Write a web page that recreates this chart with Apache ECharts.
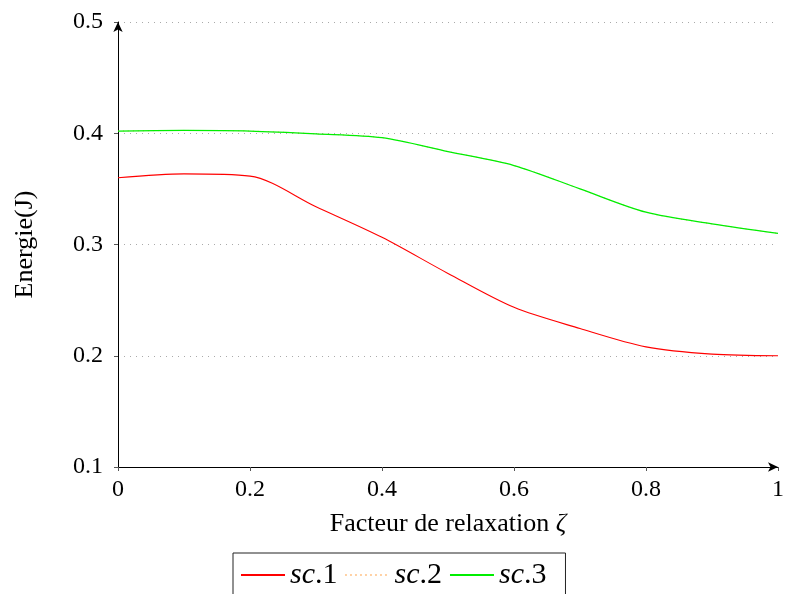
<!DOCTYPE html>
<html>
<head>
<meta charset="utf-8">
<script src="https://cdn.jsdelivr.net/npm/echarts@6/dist/echarts.min.js"></script>
<style>
  html, body { margin: 0; padding: 0; background: #fff; }
  #chart { width: 787px; height: 594px; }
</style>
</head>
<body>
<div id="chart"></div>
<script>
// Relaxation factor (x) and energy for each scenario
const zeta = [0, 0.1, 0.2, 0.3, 0.4, 0.5, 0.6, 0.7, 0.8, 0.9, 1.0];
const sc1 = [0.360, 0.3635, 0.3615, 0.334, 0.3065, 0.274, 0.2435, 0.2245, 0.208, 0.2015, 0.200];
const sc2 = [0.402, 0.4025, 0.402, 0.3995, 0.396, 0.3835, 0.371, 0.350, 0.329, 0.3185, 0.310];
const sc3 = [0.402, 0.4025, 0.402, 0.3995, 0.396, 0.3835, 0.371, 0.350, 0.329, 0.3185, 0.310];
const seriesNames = ['sc.1', 'sc.2', 'sc.3'];
const xTicks = [0, 0.2, 0.4, 0.6, 0.8, 1];
const yTicks = [0.1, 0.2, 0.3, 0.4, 0.5];

const FONT = '"Liberation Serif", "DejaVu Serif", serif';
const pairs = ys => zeta.map((x, i) => [x, ys[i]]);

const chart = echarts.init(document.getElementById('chart'), null, { renderer: 'canvas' });

chart.setOption({
  animation: false,
  backgroundColor: '#ffffff',
  grid: { left: 118, right: 3, top: 22, bottom: 127, containLabel: false },
  xAxis: {
    type: 'value',
    min: xTicks[0],
    max: xTicks[xTicks.length - 1],
    interval: 0.2,
    name: 'Facteur de relaxation {z|ζ}',
    nameLocation: 'middle',
    nameGap: 44,
    nameTextStyle: {
      fontFamily: FONT, fontSize: 26, color: '#000',
      rich: { z: { fontFamily: FONT, fontSize: 26, fontStyle: 'italic', color: '#000' } }
    },
    axisLine: {
      show: true, onZero: false,
      symbol: ['none', 'arrow'], symbolSize: [7, 10], symbolOffset: [0, 0],
      lineStyle: { color: '#000', width: 1 }
    },
    axisTick: { show: true, inside: false, length: 4, lineStyle: { color: '#555' } },
    axisLabel: { fontFamily: FONT, fontSize: 24, color: '#000', margin: 11 },
    splitLine: { show: false }
  },
  yAxis: {
    type: 'value',
    min: yTicks[0],
    max: yTicks[yTicks.length - 1],
    interval: 0.1,
    name: 'Energie(J)',
    nameLocation: 'middle',
    nameRotate: 90,
    nameGap: 80,
    nameTextStyle: { fontFamily: FONT, fontSize: 26, color: '#000' },
    axisLine: {
      show: true, onZero: false,
      symbol: ['none', 'arrow'], symbolSize: [7, 10],
      lineStyle: { color: '#000', width: 1 }
    },
    axisTick: { show: true, inside: false, length: 4, lineStyle: { color: '#555' } },
    axisLabel: { fontFamily: FONT, fontSize: 24, color: '#000', margin: 15 },
    splitLine: { show: true, lineStyle: { color: '#aaa', width: 1, type: [1, 5] } }
  },
  legend: {
    show: true,
    data: seriesNames,
    left: 233,
    top: 553,
    orient: 'horizontal',
    borderColor: '#222',
    borderWidth: 1,
    padding: [7, 19, 30, 7],
    itemWidth: 44,
    itemHeight: 14,
    itemGap: 7,
    itemStyle: { color: 'transparent', borderWidth: 0 },
    formatter: n => '{i|' + n.slice(0, 2) + '}' + n.slice(2),
    textStyle: {
      fontFamily: FONT, fontSize: 30, color: '#000',
      rich: { i: { fontFamily: FONT, fontSize: 30, fontStyle: 'italic', color: '#000' } }
    }
  },
  series: [
    {
      name: seriesNames[0], type: 'line', data: pairs(sc1), smooth: 0.3,
      showSymbol: false, symbol: 'none', z: 3,
      lineStyle: { color: '#ff0000', width: 1.1 }, itemStyle: { color: '#ff0000' }
    },
    {
      name: seriesNames[1], type: 'line', data: pairs(sc2), smooth: 0.3,
      showSymbol: false, symbol: 'none', z: 2,
      lineStyle: { color: '#ffa54f', width: 1, type: [1, 4] }, itemStyle: { color: '#ffa54f' }
    },
    {
      name: seriesNames[2], type: 'line', data: pairs(sc3), smooth: 0.3,
      showSymbol: false, symbol: 'none', z: 4,
      lineStyle: { color: '#00ee00', width: 1.3 }, itemStyle: { color: '#00ee00' }
    }
  ]
});
</script>
</body>
</html>
